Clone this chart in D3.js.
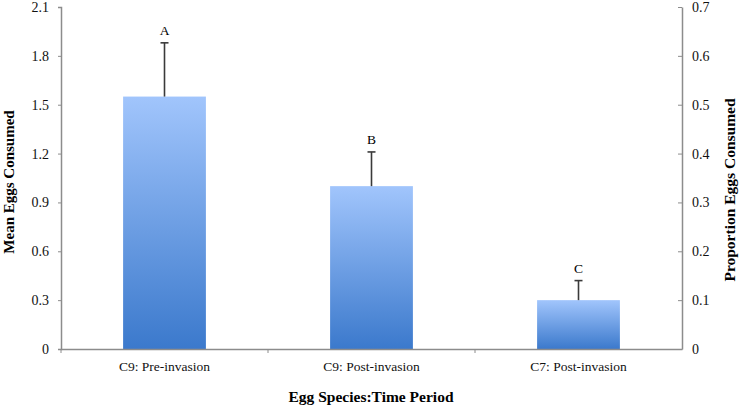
<!DOCTYPE html>
<html>
<head>
<meta charset="utf-8">
<script src="https://cdn.jsdelivr.net/npm/d3@7"></script>
<style>
  body { margin: 0; background: #fff; }
  text { font-family: "Liberation Serif", "Times New Roman", serif; }
</style>
</head>
<body>
<svg width="740" height="406"></svg>
<script>
// chart data
var categories = ["C9: Pre-invasion", "C9: Post-invasion", "C7: Post-invasion"];
var meanEggs = [1.55, 1.0, 0.3];
var errorTop = [1.88, 1.21, 0.42];
var groupLetters = ["A", "B", "C"];
var leftTicks = [0, 0.3, 0.6, 0.9, 1.2, 1.5, 1.8, 2.1];
var rightTicks = [0, 0.1, 0.2, 0.3, 0.4, 0.5, 0.6, 0.7];

var svg = d3.select("svg");

var plotLeft = 61, plotRight = 682, plotTop = 7, plotBottom = 349;
var axisColor = "#8c8c8c";

var x = d3.scaleBand().domain(categories).range([plotLeft, plotRight]).padding(0);
var y = d3.scaleLinear().domain([0, 2.1]).range([plotBottom, plotTop]);
var y2 = d3.scaleLinear().domain([0, 0.7]).range([plotBottom, plotTop]);

var barWidth = x.bandwidth() * 0.4;

// gradient fill for bars
var grad = svg.append("defs").append("linearGradient")
    .attr("id", "barGrad")
    .attr("x1", 0).attr("y1", 0).attr("x2", 0).attr("y2", 1);
grad.append("stop").attr("offset", "0%").attr("stop-color", "#a1c5fc");
grad.append("stop").attr("offset", "100%").attr("stop-color", "#3b79cc");

//Bars
svg.selectAll("rect.bar")
    .data(meanEggs)
    .enter()
    .append("rect")
    .attr("class", "bar")
    .attr("x", function(d, i) { return x(categories[i]) + (x.bandwidth() - barWidth) / 2; })
    .attr("y", function(d) { return y(d); })
    .attr("width", barWidth)
    .attr("height", function(d) { return plotBottom - y(d); })
    .style("fill", "url(#barGrad)");

//Error bars
var eb = svg.selectAll("g.err")
    .data(meanEggs)
    .enter()
    .append("g")
    .attr("class", "err");
eb.append("line")
    .attr("x1", function(d, i) { return x(categories[i]) + x.bandwidth() / 2; })
    .attr("x2", function(d, i) { return x(categories[i]) + x.bandwidth() / 2; })
    .attr("y1", function(d) { return y(d); })
    .attr("y2", function(d, i) { return y(errorTop[i]); })
    .style("stroke", "#3a3a3a")
    .style("stroke-width", 1.6);
eb.append("line")
    .attr("x1", function(d, i) { return x(categories[i]) + x.bandwidth() / 2 - 4; })
    .attr("x2", function(d, i) { return x(categories[i]) + x.bandwidth() / 2 + 4; })
    .attr("y1", function(d, i) { return y(errorTop[i]); })
    .attr("y2", function(d, i) { return y(errorTop[i]); })
    .style("stroke", "#3a3a3a")
    .style("stroke-width", 1.6);

//Letters
svg.selectAll("text.letter")
    .data(groupLetters)
    .enter()
    .append("text")
    .attr("class", "letter")
    .attr("x", function(d, i) { return x(categories[i]) + x.bandwidth() / 2; })
    .attr("y", function(d, i) { return y(errorTop[i]) - 8; })
    .style("text-anchor", "middle")
    .style("font-size", "13.5px")
    .text(function(d) { return d; });

//Left axis
var yaxis = d3.axisLeft(y).tickValues(leftTicks).tickSize(3).tickPadding(9)
    .tickFormat(function(d) { return d === 0 ? "0" : d3.format(".1f")(d); });
var gl = svg.append("g").attr("transform", "translate(" + plotLeft + ",0)").call(yaxis);

//Right axis
var yaxis2 = d3.axisRight(y2).tickValues(rightTicks).tickSizeInner(-4).tickSizeOuter(0).tickPadding(10)
    .tickFormat(function(d) { return d === 0 ? "0" : d3.format(".1f")(d); });
var gr = svg.append("g").attr("transform", "translate(" + plotRight + ",0)").call(yaxis2);

//X axis
var xaxis = d3.axisBottom(x).tickSize(0).tickPadding(12);
var gx = svg.append("g").attr("transform", "translate(0," + plotBottom + ")").call(xaxis);

// tick marks at category boundaries
svg.selectAll("line.sep")
    .data(categories)
    .enter()
    .append("line")
    .attr("class", "sep")
    .attr("x1", function(d) { return x(d); })
    .attr("x2", function(d) { return x(d); })
    .attr("y1", plotBottom)
    .attr("y2", plotBottom + 4)
    .style("stroke", axisColor);

[gl, gr, gx].forEach(function(g) {
    g.select(".domain").attr("stroke", axisColor).attr("stroke-width", 1.5);
    g.selectAll(".tick line").attr("stroke", axisColor);
    g.selectAll(".tick text").style("font-family", "Liberation Serif").style("font-size", "14px").attr("fill", "#111");
});
gx.selectAll(".tick text").style("font-size", "13.5px");

//Axis titles
svg.append("text")
    .attr("transform", "translate(14,182) rotate(-90)")
    .style("text-anchor", "middle")
    .style("font-weight", "bold")
    .style("font-size", "15px")
    .text("Mean Eggs Consumed");

svg.append("text")
    .attr("transform", "translate(735,190) rotate(-90)")
    .style("text-anchor", "middle")
    .style("font-weight", "bold")
    .style("font-size", "15.5px")
    .text("Proportion Eggs Consumed");

svg.append("text")
    .attr("transform", "translate(371,402)")
    .style("text-anchor", "middle")
    .style("font-weight", "bold")
    .style("font-size", "15.5px")
    .text("Egg Species:Time Period");
</script>
</body>
</html>
